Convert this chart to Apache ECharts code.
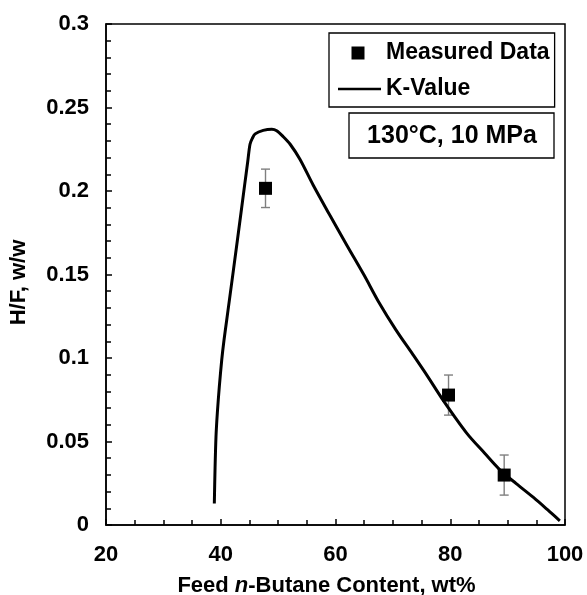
<!DOCTYPE html>
<html><head><meta charset="utf-8">
<script src="https://cdn.jsdelivr.net/npm/echarts@6/dist/echarts.min.js"></script>
<style>html,body{margin:0;padding:0;background:#fff}#c{width:587px;height:595px}</style>
</head><body><div id="c"></div>
<script>
// K-Value model curve
const curveX = [38.88, 39.0, 39.17, 39.40, 39.75, 40.17, 40.57, 41.04, 41.5, 42.9, 44.16, 44.7, 45.1, 45.5, 46.0, 47.4, 48.9, 49.75, 50.9, 52.1, 53.8, 56.1, 59.0, 62.0, 65.0, 67.5, 70.5, 73.5, 76.0, 78.8, 82.9, 86.0, 88.7, 91.5, 94.5, 97.0, 99.1];
const curveY = [0.0129, 0.0329, 0.0529, 0.0669, 0.0828, 0.0988, 0.1108, 0.1228, 0.1345, 0.1705, 0.2035, 0.2175, 0.2280, 0.2315, 0.2342, 0.2363, 0.2370, 0.2361, 0.2325, 0.2280, 0.2190, 0.2036, 0.1856, 0.1674, 0.1495, 0.1337, 0.1170, 0.1020, 0.0893, 0.0745, 0.0549, 0.0430, 0.0329, 0.0248, 0.0165, 0.0090, 0.0025];
// Measured data with error bars
const measuredX = [47.8, 79.7, 89.4];
const measuredY = [0.2016, 0.0778, 0.0299];
const measuredErr = [0.0115, 0.012, 0.012];
// axes
const xTicks = [20, 40, 60, 80, 100];
const yTicks = [0, 0.05, 0.1, 0.15, 0.2, 0.25, 0.3];
const seriesNames = ['Measured Data', 'K-Value'];
const conditionText = '130°C, 10 MPa';
const xTitle = 'Feed {i|n}-Butane Content, wt%';
const yTitle = 'H/F, w/w';

const FONT = '"Liberation Sans", Arial, sans-serif';
const chart = echarts.init(document.getElementById('c'), null, {renderer: 'canvas'});
const lineData = curveX.map((x, i) => [x, curveY[i]]);
const measData = measuredX.map((x, i) => [x, measuredY[i]]);
const errData = measuredX.map((x, i) => [x, measuredY[i], measuredErr[i]]);

chart.setOption({
  animation: false,
  backgroundColor: '#fff',
  textStyle: {fontFamily: FONT},
  grid: {left: 106, right: 22, top: 24, bottom: 70, containLabel: false, outerBoundsMode: 'none',
    show: true, borderColor: '#000', borderWidth: 1.5, backgroundColor: 'transparent'},
  legend: {
    data: [
      {name: seriesNames[0], icon: 'path://M0,0 M13.5,0 L26.5,0 L26.5,13 L13.5,13 Z M43,13'},
      {name: seriesNames[1], icon: 'path://M0,0 M0,5.2 L43,5.2 L43,7.8 L0,7.8 Z M43,13'}
    ],
    orient: 'vertical', left: 329, top: 33,
    padding: [8, 5, 6, 9],
    borderColor: '#000', borderWidth: 1.3,
    backgroundColor: '#fff',
    itemWidth: 43, itemHeight: 13, itemGap: 12,
    itemStyle: {borderWidth: 0},
    textStyle: {fontSize: 23, fontWeight: 'bold', color: '#000', fontFamily: FONT, lineHeight: 24},
    selectedMode: false
  },
  xAxis: {
    type: 'value', min: xTicks[0], max: xTicks[xTicks.length - 1], interval: xTicks[1] - xTicks[0],
    name: xTitle, nameLocation: 'middle', nameGap: 50,
    nameTextStyle: {fontSize: 22, fontWeight: 'bold', color: '#000', fontFamily: FONT, padding: [0, 18, 0, 0],
      rich: {i: {fontSize: 22, fontWeight: 'bold', fontStyle: 'italic', color: '#000', fontFamily: FONT}}},
    axisLine: {show: true, lineStyle: {color: '#000', width: 1.5}},
    axisTick: {show: true, inside: true, length: 6, lineStyle: {color: '#000', width: 1.5}},
    minorTick: {show: true, splitNumber: 4, length: 5, lineStyle: {color: '#000', width: 1.5}},
    axisLabel: {fontSize: 22, fontWeight: 'bold', color: '#000', margin: 19, fontFamily: FONT},
    splitLine: {show: false}
  },
  yAxis: {
    type: 'value', min: yTicks[0], max: yTicks[yTicks.length - 1], interval: yTicks[1] - yTicks[0],
    name: yTitle, nameLocation: 'middle', nameGap: 76, nameRotate: 90,
    nameTextStyle: {fontSize: 22, fontWeight: 'bold', color: '#000', fontFamily: FONT, padding: [0, 16, 0, 0]},
    axisLine: {show: true, lineStyle: {color: '#000', width: 1.5}},
    axisTick: {show: true, inside: true, length: 6, lineStyle: {color: '#000', width: 1.5}},
    minorTick: {show: true, splitNumber: 5, length: 5, lineStyle: {color: '#000', width: 1.5}},
    axisLabel: {fontSize: 22, fontWeight: 'bold', color: '#000', margin: 17, fontFamily: FONT},
    splitLine: {show: false}
  },
  graphic: [{
    type: 'group', children: [
      {type: 'rect', shape: {x: 349, y: 113, width: 205, height: 45}, style: {fill: '#fff', stroke: '#000', lineWidth: 1.3}},
      {type: 'text', style: {text: conditionText, x: 452, y: 136, align: 'center', verticalAlign: 'middle',
        fontSize: 25, fontWeight: 'bold', fontFamily: FONT, fill: '#000'}}
    ]
  }],
  series: [
    {
      name: 'errors', type: 'custom', data: errData, z: 2, silent: true,
      renderItem: function (params, api) {
        const x = api.value(0), y = api.value(1), e = api.value(2);
        const t = api.coord([x, y + e]);
        const b = api.coord([x, y - e]);
        const cw = 4.5;
        const st = {stroke: '#7f7f7f', lineWidth: 1.4};
        return {type: 'group', children: [
          {type: 'line', shape: {x1: t[0], y1: t[1], x2: b[0], y2: b[1]}, style: st},
          {type: 'line', shape: {x1: t[0] - cw, y1: t[1], x2: t[0] + cw, y2: t[1]}, style: st},
          {type: 'line', shape: {x1: b[0] - cw, y1: b[1], x2: b[0] + cw, y2: b[1]}, style: st}
        ]};
      }
    },
    {
      name: seriesNames[1], type: 'line', data: lineData, symbol: 'none', smooth: 0.3, z: 3,
      lineStyle: {color: '#000', width: 3}, itemStyle: {color: '#000'}
    },
    {
      name: seriesNames[0], type: 'scatter', data: measData, symbol: 'rect', symbolSize: 13, z: 4,
      itemStyle: {color: '#000', opacity: 1}
    }
  ]
});
</script>
</body></html>
